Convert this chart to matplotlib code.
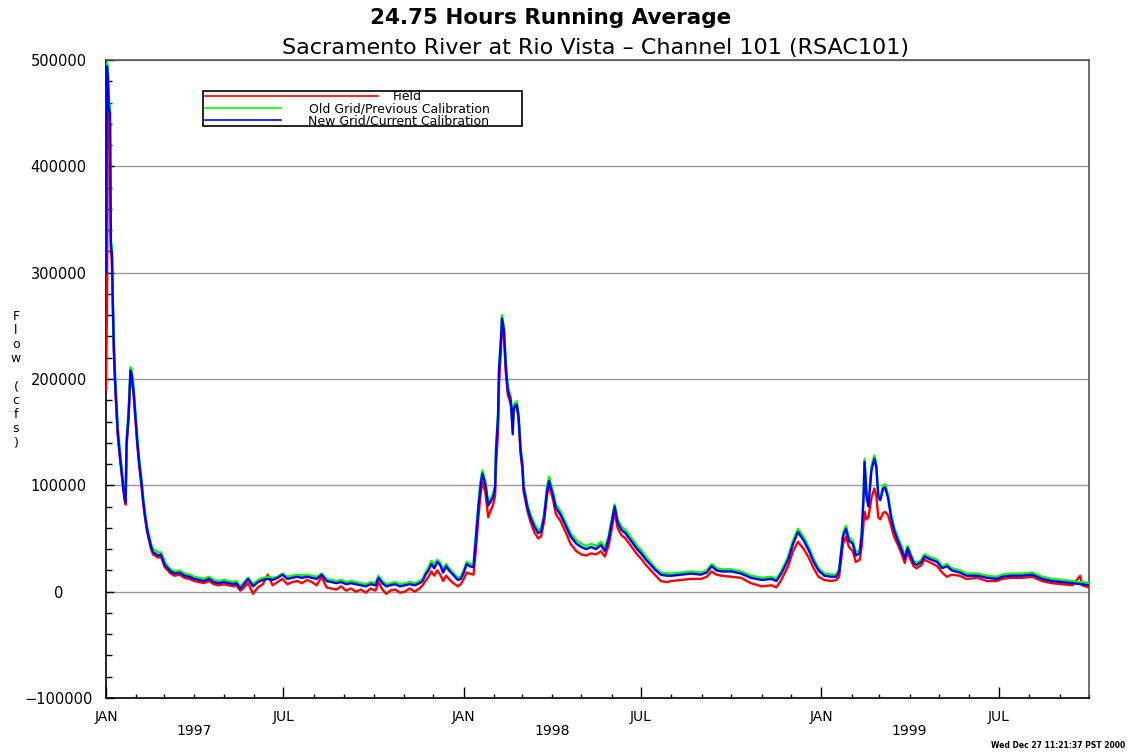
import numpy as np
import pandas as pd
import matplotlib
matplotlib.use('Agg')
import matplotlib.pyplot as plt
from matplotlib.lines import Line2D
from matplotlib.patches import Rectangle
import matplotlib.transforms as mtransforms

# days since 1997-01-01 and flows in 1000 cfs
day = [0, 1, 2, 3, 4, 5, 6, 7, 8, 9, 10, 12, 14, 16, 18, 19, 20, 21, 23, 25,
       26, 28, 30, 32, 34, 36, 38, 40, 42, 44, 46, 48, 50, 53, 56, 58, 60, 63, 66, 70,
       75, 80, 85, 90, 95, 100, 105, 110, 115, 120, 125, 130, 133, 137, 140, 145, 150, 155, 160, 165,
       170, 175, 180, 185, 190, 195, 200, 205, 210, 215, 220, 225, 230, 235, 240, 245, 250, 255, 260, 265,
       270, 275, 278, 282, 286, 290, 295, 300, 305, 310, 315, 320, 323, 326, 329, 332, 335, 338, 341, 344,
       347, 350, 353, 356, 359, 362, 365, 368, 371, 375, 378, 380, 382, 384, 387, 390, 392, 395, 397, 398,
       400, 401, 403, 404, 406, 408, 410, 413, 415, 416, 419, 421, 423, 425, 426, 430, 433, 437, 441, 444,
       447, 450, 452, 456, 459, 464, 469, 474, 480, 485, 490, 495, 500, 505, 509, 513, 517, 519, 522, 526,
       530, 534, 538, 542, 546, 551, 556, 561, 566, 572, 577, 587, 597, 607, 613, 618, 623, 628, 638, 648,
       658, 669, 679, 684, 689, 696, 701, 706, 712, 717, 722, 727, 733, 740, 745, 748, 752, 755, 758, 762,
       765, 769, 771, 773, 774, 776, 778, 781, 784, 786, 788, 790, 793, 795, 798, 801, 804, 808, 812, 815,
       818, 820, 824, 827, 832, 835, 842, 848, 853, 858, 863, 871, 878, 889, 899, 909, 914, 924, 935, 945,
       955, 965, 976, 986, 994, 996, 1003]

new_grid = [300, 494, 480, 455, 450, 325, 318, 270, 230, 205, 185, 150, 130, 112, 95, 88, 84, 140, 165, 208,
            205, 190, 165, 140, 120, 104, 85, 70, 58, 50, 42, 37, 36, 34, 35, 30, 25, 22, 19, 17,
            18, 15, 14, 12, 11, 10, 12, 9, 8, 9, 8, 7, 8, 3, 6, 12, 5, 9, 11, 12,
            11, 13, 16, 12, 13, 14, 13, 14, 13, 12, 16, 10, 9, 8, 9, 7, 8, 7, 6, 5,
            7, 6, 13, 8, 5, 6, 7, 5, 6, 7, 6, 8, 10, 16, 20, 26, 22, 28, 25, 18,
            24, 20, 17, 14, 11, 12, 18, 26, 24, 23, 57, 79, 98, 111, 101, 81, 84, 89, 97, 133,
            164, 208, 237, 257, 246, 211, 189, 180, 148, 173, 176, 164, 133, 117, 98, 79, 70, 61, 55, 57,
            70, 95, 104, 91, 79, 72, 62, 52, 45, 42, 40, 42, 40, 44, 38, 50, 70, 80, 65, 58,
            55, 50, 45, 40, 36, 30, 25, 20, 16, 15, 15, 16, 17, 16, 18, 24, 20, 19, 19, 17,
            13, 11, 12, 10, 17, 30, 45, 56, 48, 39, 28, 20, 15, 14, 14, 19, 52, 59, 48, 45,
            34, 36, 52, 89, 122, 89, 80, 114, 125, 117, 89, 86, 97, 98, 88, 70, 58, 48, 39, 31,
            41, 36, 27, 25, 28, 33, 30, 28, 22, 24, 20, 18, 15, 15, 13, 12, 14, 15, 15, 16,
            12, 10, 9, 8, 7, 7, 6]

old_grid = [320, 497, 488, 462, 456, 330, 324, 276, 235, 210, 190, 154, 134, 116, 99, 91, 87, 144, 169, 211,
            209, 194, 169, 144, 124, 108, 89, 73, 61, 53, 45, 40, 39, 37, 37, 33, 28, 24, 21, 19,
            20, 17, 16, 14, 13, 12, 14, 11, 10, 11, 10, 9, 10, 5, 8, 13, 7, 11, 13, 14,
            13, 14, 17, 14, 15, 16, 15, 16, 15, 14, 17, 12, 11, 10, 11, 9, 10, 9, 8, 7,
            9, 8, 15, 10, 7, 8, 9, 7, 8, 9, 8, 10, 12, 18, 23, 29, 25, 30, 27, 21,
            26, 22, 19, 16, 13, 14, 20, 28, 26, 26, 60, 83, 103, 114, 104, 84, 87, 92, 100, 137,
            168, 212, 241, 260, 249, 214, 193, 183, 152, 176, 179, 167, 136, 120, 101, 82, 73, 64, 58, 60,
            73, 98, 108, 94, 82, 75, 65, 55, 48, 45, 43, 45, 43, 47, 41, 53, 73, 82, 68, 61,
            58, 53, 48, 43, 39, 33, 27, 22, 18, 17, 17, 18, 19, 18, 20, 26, 22, 21, 21, 19,
            15, 13, 14, 12, 19, 33, 48, 59, 51, 42, 31, 22, 17, 16, 16, 21, 55, 62, 51, 48,
            37, 39, 55, 93, 125, 92, 83, 118, 128, 120, 92, 89, 100, 101, 91, 73, 61, 51, 42, 34,
            43, 38, 29, 27, 30, 35, 32, 30, 24, 26, 22, 20, 17, 17, 15, 14, 16, 17, 17, 18,
            14, 12, 11, 10, 9, 9, 8]

field = [190, 270, 460, 445, 440, 320, 312, 265, 226, 200, 181, 147, 127, 110, 93, 86, 82, 137, 162, 205,
         202, 187, 162, 137, 117, 101, 83, 68, 56, 48, 40, 35, 34, 32, 33, 28, 23, 20, 17, 15,
         16, 13, 12, 10, 9, 8, 10, 7, 6, 7, 6, 5, 6, 1, 3, 8, -2, 4, 7, 16,
         6, 9, 12, 7, 9, 10, 8, 11, 9, 6, 14, 4, 3, 2, 5, 1, 3, 0, 2, -1,
         3, 1, 9, 2, -2, 1, 2, -1, 0, 3, 0, 3, 6, 10, 14, 19, 15, 20, 16, 10,
         15, 12, 9, 7, 5, 7, 12, 18, 17, 16, 45, 70, 90, 103, 94, 70, 75, 82, 90, 120,
         150, 195, 228, 248, 240, 205, 185, 176, 160, 170, 178, 162, 130, 114, 95, 76, 66, 56, 50, 52,
         66, 90, 100, 87, 73, 66, 56, 45, 38, 35, 34, 36, 35, 38, 33, 44, 64, 75, 60, 53,
         50, 45, 40, 35, 31, 25, 20, 15, 10, 9, 10, 11, 12, 12, 14, 19, 16, 15, 14, 13,
         8, 5, 6, 4, 11, 24, 38, 47, 40, 32, 22, 14, 11, 10, 11, 14, 45, 52, 42, 38,
         28, 30, 42, 65, 75, 68, 70, 88, 97, 90, 70, 68, 74, 75, 72, 62, 52, 44, 35, 27,
         38, 32, 24, 22, 25, 30, 27, 24, 18, 14, 16, 15, 12, 13, 10, 10, 12, 13, 13, 14,
         10, 8, 7, 6, 15, 6, 4]

yticks = [-100000, 0, 100000, 200000, 300000, 400000, 500000]
ytick_labels = ['\u2212100000', '0', '100000', '200000', '300000', '400000', '500000']
month_ticks = pd.date_range('1997-01-01', '1999-10-01', freq='MS')
major_ticks = pd.to_datetime(['1997-01-01', '1997-07-01', '1998-01-01', '1998-07-01', '1999-01-01', '1999-07-01'])
major_labels = ['JAN', 'JUL', 'JAN', 'JUL', 'JAN', 'JUL']
years = ['1997', '1998', '1999']
year_pos = pd.to_datetime(['1997-04-01', '1998-04-01', '1999-04-01'])

dates = pd.Timestamp('1997-01-01') + pd.to_timedelta(day, unit='D')

W, H = 1128, 756
fig = plt.figure(figsize=(W / 100, H / 100), dpi=100)
ax = fig.add_axes([106 / W, 1 - 698 / H, (1089 - 106) / W, (698 - 60) / H])

ax.plot(dates, np.array(field) * 1000, color='red', lw=1.7, zorder=3)
ax.plot(dates, np.array(old_grid) * 1000, color='lime', lw=1.7, zorder=4)
ax.plot(dates, np.array(new_grid) * 1000, color='blue', lw=1.7, zorder=5)

ax.set_xlim(pd.Timestamp('1997-01-01'), pd.Timestamp('1999-10-01'))
ax.set_ylim(-100000, 500000)

ax.set_yticks(yticks)
ax.set_yticklabels(ytick_labels, ha='center')
ax.set_yticks(np.arange(-100000, 500001, 20000), minor=True)
ax.set_xticks(major_ticks)
ax.set_xticklabels(major_labels)
ax.set_xticks(month_ticks, minor=True)

ax.tick_params(axis='y', which='major', direction='in', length=6, width=1, pad=34, labelsize=10.5)
ax.tick_params(axis='y', which='minor', direction='in', length=4, width=1)
ax.tick_params(axis='x', which='major', direction='in', length=8, width=1, pad=9, labelsize=10)
ax.tick_params(axis='x', which='minor', direction='in', length=3, width=1)

ax.grid(axis='y', which='major', color='#9a9a9a', lw=1, zorder=1)
for s in ax.spines.values():
    s.set_color('black')
    s.set_linewidth(1.2)
ax.spines['top'].set_color('#555555')
ax.spines['right'].set_color('#555555')

trans = mtransforms.blended_transform_factory(ax.transData, fig.transFigure)
for yr, pos in zip(years, year_pos):
    ax.text(pos, 1 - 731 / H, yr, transform=trans, ha='center', va='center', fontsize=10)

# titles
fig.text(551 / W, 1 - 18 / H, '24.75 Hours Running Average', ha='center', va='center',
         fontsize=15.5, fontweight='bold')
fig.text(595 / W, 1 - 48 / H, 'Sacramento River at Rio Vista \u2013 Channel 101 (RSAC101)',
         ha='center', va='center', fontsize=16)

# stacked y label
fig.text(16 / W, 1 - 380 / H, 'F\nl\no\nw\n\n(\nc\nf\ns\n)', ha='center', va='center',
         fontsize=9, linespacing=1.1)

# legend box
fig.patches.append(Rectangle((203 / W, 1 - 126 / H), (522 - 203) / W, (126 - 91) / H,
                             transform=fig.transFigure, fill=False, edgecolor='black', lw=1.2))
legend_rows = [('Field', 'red', 378, 407, 96),
               ('Old Grid/Previous Calibration', 'lime', 281, 399, 108),
               ('New Grid/Current Calibration', 'blue', 281, 399, 120)]
for label, col, xend, xtxt, yrow in legend_rows:
    fig.lines.append(Line2D([205 / W, xend / W], [1 - yrow / H, 1 - yrow / H],
                            transform=fig.transFigure, color=col, lw=1.2))
    fig.text(xtxt / W, 1 - (yrow + 1) / H, label, ha='center', va='center', fontsize=9)

fig.text(1125 / W, 1 - 746 / H, 'Wed Dec 27 11:21:37 PST 2000', ha='right', va='center',
         fontsize=5.5, fontweight='bold')

fig.savefig('out.png', dpi=100)
